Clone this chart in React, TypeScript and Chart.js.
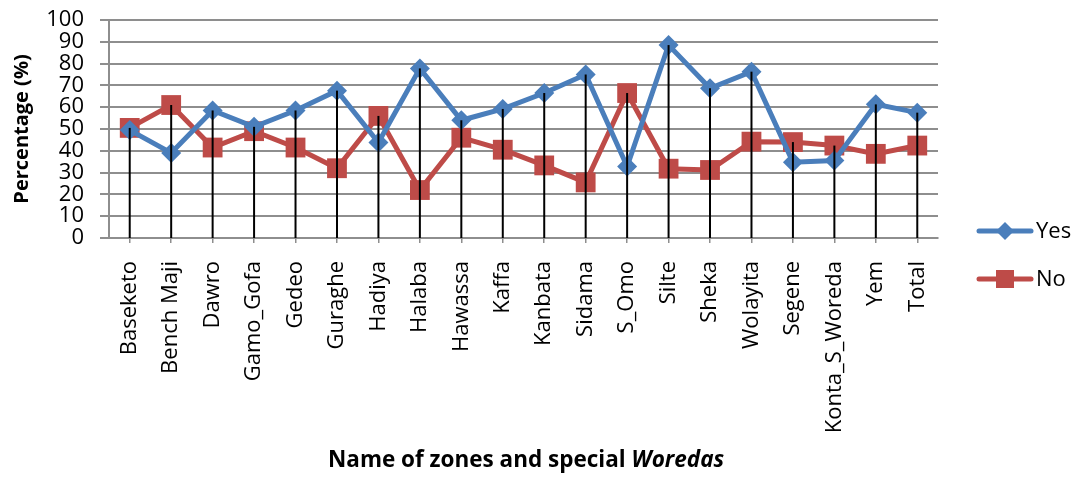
import React, { useEffect, useRef } from "react";
import { Chart, registerables } from "chart.js";

Chart.register(...registerables);

const categories = [
  "Baseketo", "Bench Maji", "Dawro", "Gamo_Gofa", "Gedeo", "Guraghe", "Hadiya",
  "Halaba", "Hawassa", "Kaffa", "Kanbata", "Sidama", "S_Omo", "Silte", "Sheka",
  "Wolayita", "Segene", "Konta_S_Woreda", "Yem", "Total",
];
const yesValues = [49.5, 39, 58.5, 51, 58.5, 67.6, 43.8, 77.8, 54, 59.2, 66.5, 75, 32.8, 88.5, 68.7, 76.3, 34.8, 35.5, 61.3, 57.5];
const noValues = [50.5, 61, 41.5, 49, 41.5, 32, 56, 22, 46, 40.5, 33.3, 25.5, 66.5, 31.8, 31.2, 44.2, 44, 42.4, 38.6, 42.4];
const yTicks = [0, 10, 20, 30, 40, 50, 60, 70, 80, 90, 100];
const seriesNames = ["Yes", "No"];

const BLUE = "#4A7EBB";
const RED = "#BE4B48";
const GRID = "#8E8E8E";
const FONT = "'Open Sans', sans-serif";

const dropLines = {
  id: "dropLines",
  afterDatasetsDraw(chart: any) {
    const { ctx } = chart;
    const m0 = chart.getDatasetMeta(0).data;
    const m1 = chart.getDatasetMeta(1).data;
    const yBottom = chart.scales.y.getPixelForValue(0);
    ctx.save();
    ctx.strokeStyle = "#000";
    ctx.lineWidth = 2;
    for (let i = 0; i < m0.length; i++) {
      const top = Math.min(m0[i].y, m1[i].y);
      ctx.beginPath();
      ctx.moveTo(m0[i].x, top);
      ctx.lineTo(m0[i].x, yBottom);
      ctx.stroke();
    }
    ctx.restore();
  },
};

const customLegend = {
  id: "customLegend",
  afterDraw(chart: any) {
    const { ctx } = chart;
    ctx.save();
    const items = [
      { label: seriesNames[0], color: BLUE, y: 231, shape: "diamond" },
      { label: seriesNames[1], color: RED, y: 279, shape: "square" },
    ];
    for (const it of items) {
      ctx.strokeStyle = it.color;
      ctx.lineWidth = 5;
      ctx.lineCap = "round";
      ctx.beginPath();
      ctx.moveTo(979, it.y);
      ctx.lineTo(1031, it.y);
      ctx.stroke();
      ctx.fillStyle = it.color;
      ctx.beginPath();
      if (it.shape === "diamond") {
        ctx.moveTo(1005 - 9, it.y);
        ctx.lineTo(1005, it.y - 9);
        ctx.lineTo(1005 + 9, it.y);
        ctx.lineTo(1005, it.y + 9);
        ctx.closePath();
      } else {
        ctx.rect(1005 - 9, it.y - 9, 18, 18);
      }
      ctx.fill();
      ctx.fillStyle = "#000";
      ctx.font = `22px ${FONT}`;
      ctx.textAlign = "left";
      ctx.textBaseline = "middle";
      ctx.fillText(it.label, 1036, it.y + 1);
    }
    // x-axis title with italic part
    const p1 = "Name of zones and special ";
    const p2 = "Woredas";
    const f1 = `bold 22.5px ${FONT}`;
    const f2 = `italic bold 22.5px ${FONT}`;
    ctx.font = f1;
    const w1 = ctx.measureText(p1).width;
    const startX = 328;
    ctx.textBaseline = "middle";
    ctx.textAlign = "left";
    ctx.fillStyle = "#000";
    ctx.fillText(p1, startX, 461);
    ctx.font = f2;
    ctx.fillText(p2, startX + w1, 461);
    ctx.restore();
  },
};

export default function App() {
  const ref = useRef<HTMLCanvasElement>(null);
  useEffect(() => {
    document.body.style.margin = "0";
    const chart = new Chart(ref.current!, {
      type: "line",
      data: {
        labels: categories,
        datasets: [
          {
            label: seriesNames[0],
            data: yesValues,
            borderColor: BLUE,
            backgroundColor: BLUE,
            borderWidth: 5,
            pointStyle: "rectRot",
            pointRadius: 10,
            pointBorderWidth: 0,
            pointBackgroundColor: BLUE,
            tension: 0,
          },
          {
            label: seriesNames[1],
            data: noValues,
            borderColor: RED,
            backgroundColor: RED,
            borderWidth: 5,
            pointStyle: "rect",
            pointRadius: 14,
            pointBorderWidth: 0,
            pointBackgroundColor: RED,
            tension: 0,
          },
        ],
      },
      plugins: [dropLines, customLegend],
      options: {
        responsive: false,
        animation: false,
        layout: { padding: { top: 20, right: 136, bottom: 0, left: 0 } },
        plugins: { legend: { display: false }, tooltip: { enabled: false } },
        scales: {
          x: {
            offset: true,
            grid: {
              offset: false,
              drawOnChartArea: false,
              drawTicks: true,
              tickLength: 5,
              color: GRID,
              lineWidth: 1.5,
            },
            border: { color: GRID, width: 2 },
            ticks: {
              autoSkip: false,
              maxRotation: 90,
              minRotation: 90,
              padding: 18,
              color: "#000",
              font: { family: FONT, size: 22 },
            },
            afterFit: (s: any) => {
              s.height = 245;
              s.paddingLeft = 0;
              s.paddingRight = 0;
            },
          },
          y: {
            min: 0,
            max: 100,
            afterBuildTicks: (s: any) => {
              s.ticks = yTicks.map((v) => ({ value: v }));
            },
            grid: { color: GRID, lineWidth: 2, tickLength: 9 },
            border: { color: GRID, width: 2 },
            ticks: {
              autoSkip: false,
              padding: 16,
              color: "#000",
              font: { family: FONT, size: 22, lineHeight: 1 },
            },
            title: {
              display: true,
              text: "Percentage (%)",
              color: "#000",
              font: { family: FONT, size: 20, weight: "bold" },
              padding: { top: 10, bottom: 0 },
            },
            afterFit: (s: any) => {
              s.width = 109;
              s.paddingTop = 0;
              s.paddingBottom = 0;
            },
          },
        },
      },
    });
    return () => chart.destroy();
  }, []);
  return (
    <div style={{ width: 1074, height: 483, background: "#fff" }}>
      <canvas ref={ref} width={1074} height={483} />
    </div>
  );
}
